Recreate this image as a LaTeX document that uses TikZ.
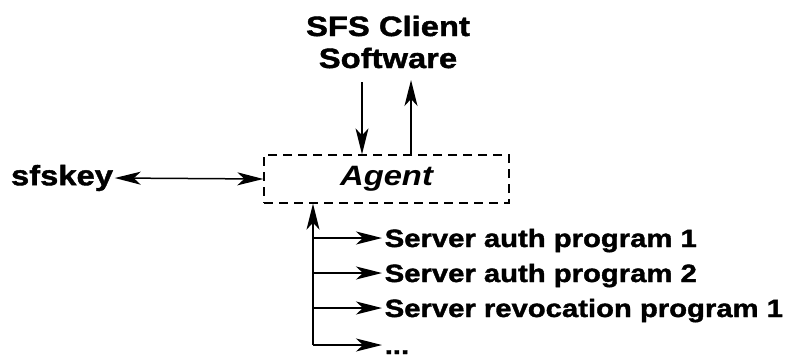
\documentclass[tikz,border=0pt]{standalone}
\usepackage{fontspec}
\setmainfont[FakeStretch=1.17,BoldFeatures={FakeBold=1.5}]{Liberation Sans}
\usepackage{tikz}
\usetikzlibrary{arrows.meta}

\begin{document}
\begin{tikzpicture}[x=1pt,y=-1pt,line width=1.5pt,
  tip/.style={-{Stealth[length=26pt,width=13pt,inset=7pt]}},
  tips/.style={{Stealth[length=26pt,width=13pt,inset=7pt]}-{Stealth[length=26pt,width=13pt,inset=7pt]}},
  big/.style={font=\fontsize{28}{32}\selectfont\bfseries,inner sep=1pt},
  prog/.style={font=\fontsize{25}{30}\selectfont\bfseries,anchor=west,inner sep=2pt,text height=18pt,text depth=0pt}]
\useasboundingbox (0,0) rectangle (789,360);
% top and left parties
\node[big,align=center] (client) at (388,42) {SFS Client\\Software};
\node[big] (sfskey) at (62,178) {sfskey};
% the agent
\node[draw,dash pattern=on 9pt off 6pt,line width=1.3pt,minimum width=245pt,minimum height=48pt,
  font=\fontsize{28}{32}\selectfont\bfseries\itshape] (agent) at (386.5,179) {Agent};
\draw[tips] (sfskey.east) -- (agent.west);
\coordinate (dn) at (362,82);
\coordinate (up) at (411,80);
\draw[tip] (dn) -- (dn |- agent.north);
\draw[tip] (up |- agent.north) -- (up);
% programs
\node[prog] (p1) at (382,238) {Server auth program 1};
\node[prog] (p2) at (382,273) {Server auth program 2};
\node[prog] (p3) at (382,308) {Server revocation program 1};
\node[prog] (p4) at (382,345) {...};
\coordinate (trunk) at (313,345);
\draw[tip] (trunk) -- (trunk |- agent.south);
\draw[tip] (trunk |- p1.west) -- (p1.west);
\draw[tip] (trunk |- p2.west) -- (p2.west);
\draw[tip] (trunk |- p3.west) -- (p3.west);
\draw[tip] (trunk) -- (p4.west);
\end{tikzpicture}
\end{document}
